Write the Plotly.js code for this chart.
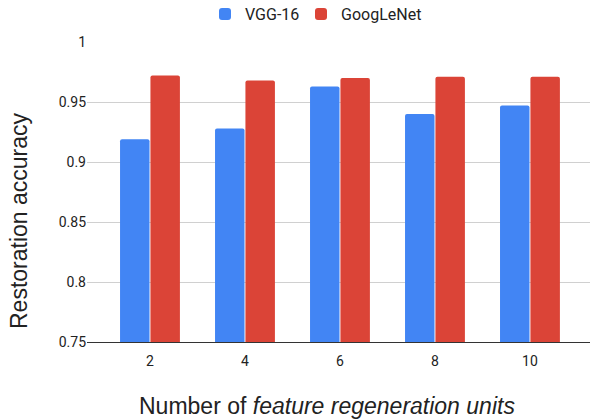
<!DOCTYPE html>
<html><head><meta charset="utf-8">
<script src="https://cdn.plot.ly/plotly-3.0.1.min.js"></script>
<style>html,body{margin:0;padding:0;background:#fff}</style>
</head><body>
<div id="chart" style="width:590px;height:419px"></div>
<script>
const categories = ["2", "4", "6", "8", "10"];
const vgg16 = [0.919, 0.928, 0.963, 0.940, 0.947];
const googlenet = [0.972, 0.968, 0.970, 0.971, 0.971];
const yTicks = [0.75, 0.8, 0.85, 0.9, 0.95, 1];
const yTickLabels = ["0.75", "0.8", "0.85", "0.9", "0.95", "1"];
const xTitle = "Number of <i>feature regeneration units</i>";
const yTitle = "Restoration accuracy";

const font = "Roboto, Arial, sans-serif";
const titleFont = {size: 23, family: "Liberation Sans, Arial, sans-serif", color: "#222"};
const legendFont = {size: 16, family: font, color: "#222"};
const traces = [
  {type: "bar", name: "VGG-16", x: categories, y: vgg16, legend: "legend",
   marker: {color: "#4285F4", cornerradius: 2, line: {width: 0}}},
  {type: "bar", name: "GoogLeNet", x: categories, y: googlenet, legend: "legend2",
   marker: {color: "#DB4437", cornerradius: 2, line: {width: 0}}}
];
// plot area: left 87, top 42, width 503, height 300
const layout = {
  width: 590, height: 419,
  margin: {l: 87, r: 0, t: 42, b: 77, autoexpand: false},
  paper_bgcolor: "#fff", plot_bgcolor: "#fff",
  font: {family: font, color: "#222"},
  barmode: "group", bargap: 0.36, bargroupgap: 0.03,
  showlegend: true,
  legend: {orientation: "h", x: (205 - 87) / 503, xanchor: "left", y: 1.093, yanchor: "middle",
           font: legendFont, itemwidth: 30},
  legend2: {orientation: "h", x: (301 - 87) / 503, xanchor: "left", y: 1.093, yanchor: "middle",
           font: legendFont, itemwidth: 30},
  xaxis: {type: "category", range: [-0.663, 4.632], showgrid: false,
          showline: true, linecolor: "#333", linewidth: 1,
          ticks: "outside", ticklen: 6, tickcolor: "rgba(0,0,0,0)",
          tickfont: {size: 14, family: font, color: "#222"},
          fixedrange: true},
  yaxis: {range: [0.75, 1.0], tickvals: yTicks, ticktext: yTickLabels,
          showgrid: true, gridcolor: "#d0d0d0", gridwidth: 1, zeroline: false,
          showline: false, ticks: "", ticklen: 0,
          tickfont: {size: 14, family: font, color: "#222"},
          fixedrange: true},
  annotations: [
    {text: xTitle, xref: "paper", yref: "paper", x: (327 - 87) / 503, y: (342 - 406) / 300,
     xanchor: "center", yanchor: "middle", showarrow: false, font: titleFont},
    {text: yTitle, xref: "paper", yref: "paper", x: (19 - 87) / 503, y: (342 - 221) / 300,
     xanchor: "center", yanchor: "middle", textangle: -90, showarrow: false, font: titleFont}
  ]
};
Plotly.newPlot("chart", traces, layout, {displayModeBar: false, staticPlot: true});
</script>
</body></html>
